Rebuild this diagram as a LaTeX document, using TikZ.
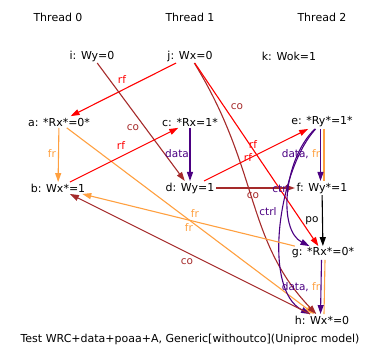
\documentclass[tikz,border=0pt]{standalone}
\usepackage{fontspec}
\setmainfont{DejaVu Sans}
\usetikzlibrary{arrows.meta}
\definecolor{cobrown}{RGB}{165,42,42}
\definecolor{frorange}{RGB}{255,160,64}
\definecolor{depindigo}{RGB}{75,0,130}

\begin{document}
\begin{tikzpicture}[x=1pt,y=-1pt,
  evt/.style={inner sep=1.5pt,font=\fontsize{11}{13}\selectfont},
  lbl/.style={inner sep=0pt,font=\fontsize{10.5}{12}\selectfont},
  edge/.style={line width=1.1pt,-{Triangle[length=9pt,width=6pt]}},
  rfedge/.style={edge,red},
  coedge/.style={edge,cobrown},
  fredge/.style={edge,frorange},
  dataedge/.style={edge,depindigo},
  poedge/.style={edge,black}]
\useasboundingbox (0,0) rectangle (382,361);
% threads
\node[evt] (th0) at (58,17) {Thread 0};
\node[evt] (th1) at (190,17) {Thread 1};
\node[evt] (th2) at (322,17) {Thread 2};
% events
\node[evt] (i) at (92,56) {i: Wy=0};
\node[evt] (j) at (190,56) {j: Wx=0};
\node[evt] (k) at (289,56) {k: Wok=1};
\node[evt] (a) at (59,122) {a: *Rx*=0*};
\node[evt] (c) at (190,122) {c: *Rx=1*};
\node[evt] (e) at (322,122) {e: *Ry*=1*};
\node[evt] (b) at (58,188) {b: Wx*=1};
\node[evt] (d) at (190,188) {d: Wy=1};
\node[evt] (f) at (322,188) {f: Wy*=1};
\node[evt] (g) at (323,253) {g: *Rx*=0*};
\node[evt] (h) at (322,320) {h: Wx*=0};
\node[evt] (cap) at (190,339) {Test WRC+data+poaa+A, Generic[withoutco](Uniproc model)};
% relations
\draw[rfedge] (j) -- (a) node[lbl,red] at (122,80) {rf};
\draw[coedge] (i) -- (d) node[lbl,cobrown] at (133,128) {co};
\draw[fredge] (a) -- (b) node[lbl,frorange] at (52,154) {fr};
\draw[fredge] (a) -- (h) node[lbl,frorange] at (189,228) {fr};
\draw[rfedge] (b) -- (c) node[lbl,red] at (121,146) {rf};
\draw[dataedge] (c) -- (d) node[lbl,depindigo] at (177,154) {data};
\draw[coedge] (j) .. controls (260,170) and (245,240) .. (h) node[lbl,cobrown] at (237,107) {co};
\draw[rfedge] (j) -- (g) node[lbl,red] at (253,145) {rf};
\draw[rfedge] (d) -- (e) node[lbl,red] at (248,158) {rf};
\draw[coedge] (d) -- (f) node[lbl,cobrown] at (253,196) {co};
\draw[dataedge] (e) .. controls (283,160) and (278,230) .. (g) node[lbl,depindigo] at (281,189) {ctrl};
\draw[dataedge] (e) .. controls (278,170) and (262,290) .. (h) node[lbl,depindigo] at (268,212) {ctrl};
\draw[frorange,line width=1.1pt] ([xshift=2pt]e.south) -- ([xshift=2pt]f.north);
\draw[dataedge] ([xshift=-1.5pt]e.south) -- ([xshift=-1.5pt]f.north)
  node[lbl] at (301,154) {\textcolor{depindigo}{data,} \textcolor{frorange}{fr}};
\draw[poedge] (f) -- (g) node[lbl] at (312,221) {po};
\draw[frorange,line width=1.1pt] ([xshift=2pt]g.south) -- ([xshift=2pt]h.north);
\draw[dataedge] ([xshift=-1.5pt]g.south) -- ([xshift=-1.5pt]h.north)
  node[lbl] at (301,287) {\textcolor{depindigo}{data,} \textcolor{frorange}{fr}};
\draw[fredge] (g) -- (b) node[lbl,frorange] at (195,214) {fr};
\draw[coedge] (h) -- (b) node[lbl,cobrown] at (187,262) {co};
\end{tikzpicture}
\end{document}
